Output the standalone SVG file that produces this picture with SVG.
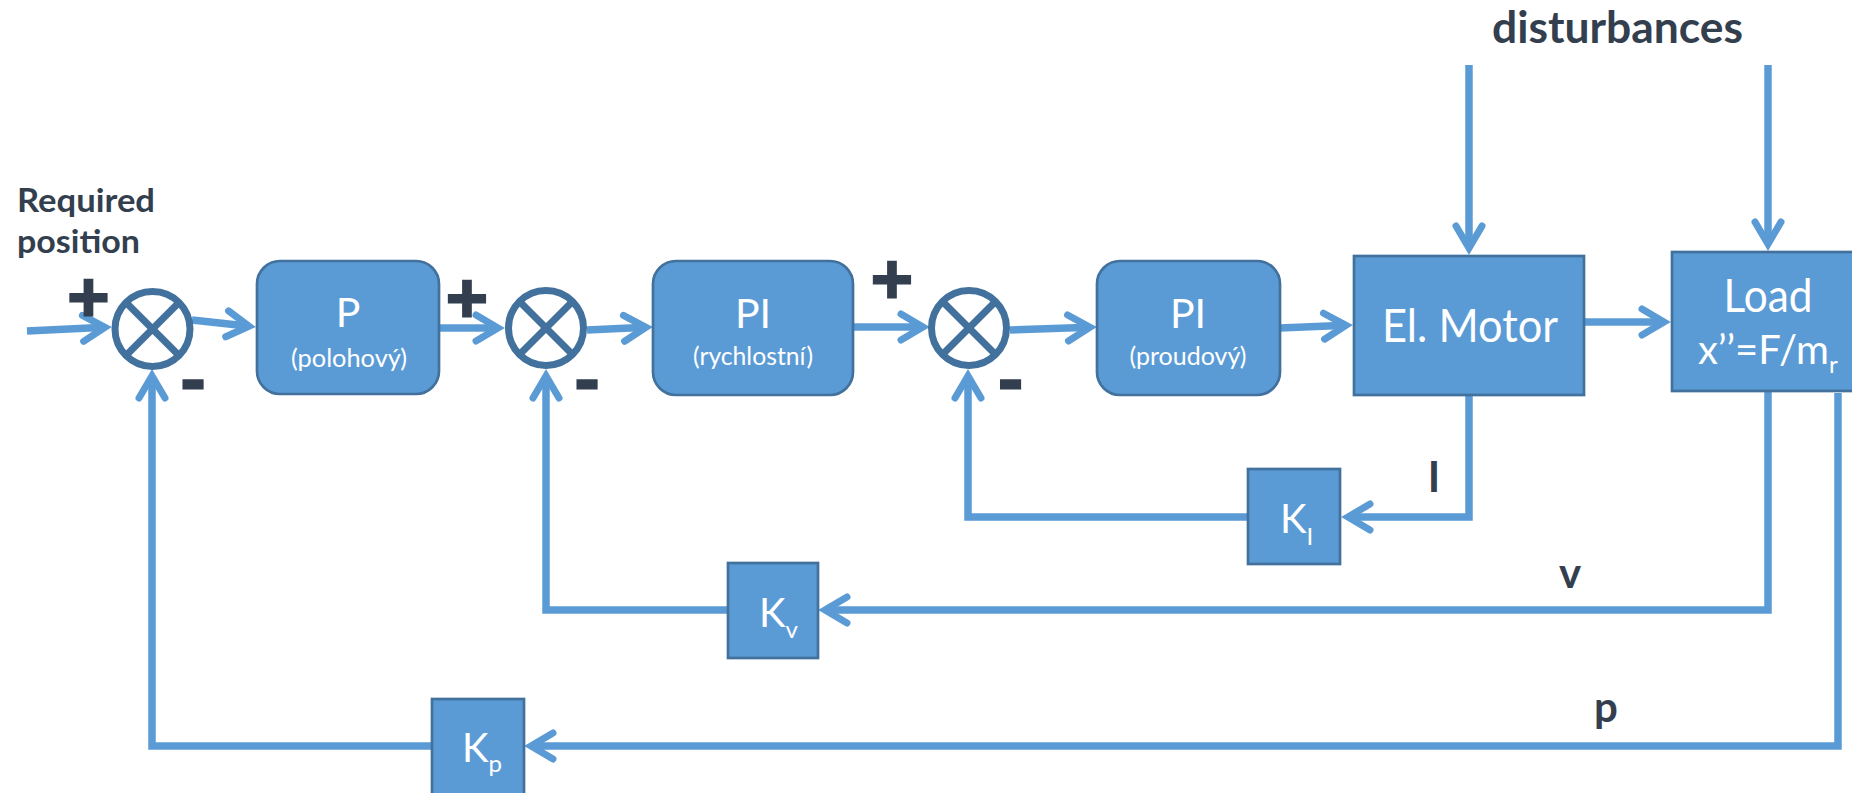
<svg xmlns="http://www.w3.org/2000/svg" width="1852" height="793" viewBox="0 0 1852 793">
  <style>
    .wire { fill: none; stroke: #5B9BD5; stroke-width: 7.5; stroke-linejoin: miter; stroke-linecap: butt; }
    .arrow { marker-end: url(#head); }
    .block { fill: #5B9BD5; stroke: #41719C; stroke-width: 2.7; }
    .sum circle { fill: #FFFFFF; stroke: #41719C; stroke-width: 7; }
    .sum line { stroke: #41719C; stroke-width: 7; }
    .in { font-family: "Lato", "Liberation Sans", sans-serif; fill: #FFFFFF; }
    .lbl { font-family: "Lato", "Liberation Sans", sans-serif; fill: #333F4F; font-weight: bold; }
    .sign { font-family: "Lato", "Liberation Sans", sans-serif; fill: #333F4F; stroke: #333F4F; stroke-width: 3; font-weight: bold; text-anchor: middle; }
    .plus { font-family: "DejaVu Sans", sans-serif; font-size: 56px; stroke-width: 3.2; }
  </style>
  <defs>
    <marker id="head" markerUnits="userSpaceOnUse" orient="auto" refX="0" refY="0" markerWidth="60" markerHeight="60" overflow="visible">
      <path d="M-22,-13 L0,0 L-22,13" fill="none" stroke="#5B9BD5" stroke-width="7" stroke-linecap="round" stroke-linejoin="miter"/>
    </marker>
  </defs>

  <!-- signal lines -->
  <g id="connectors">
    <path class="wire arrow" d="M27,331 L105,327.3"/>
    <path class="wire arrow" d="M192,320 L249,326.2"/>
    <path class="wire arrow" d="M439,328 L498,328"/>
    <path class="wire arrow" d="M587,330 L646,327.3"/>
    <path class="wire arrow" d="M853,327 L923,327"/>
    <path class="wire arrow" d="M1010,330 L1090,327.2"/>
    <path class="wire arrow" d="M1280,328 L1346,325.3"/>
    <path class="wire arrow" d="M1584,322 L1664,322"/>
    <path class="wire arrow" d="M1469,65 L1469,248"/>
    <path class="wire arrow" d="M1768,65 L1768,244"/>
    <!-- current loop -->
    <path class="wire arrow" d="M1469,395 L1469,517 L1348,517"/>
    <path class="wire arrow" d="M1248,517 L968,517 L968,376"/>
    <!-- velocity loop -->
    <path class="wire arrow" d="M1768,391 L1768,610 L825,610"/>
    <path class="wire arrow" d="M728,610 L546,610 L546,376"/>
    <!-- position loop -->
    <path class="wire arrow" d="M1838,393 L1838,746 L531,746"/>
    <path class="wire arrow" d="M432,746 L152,746 L152,376"/>
  </g>

  <!-- summing junctions -->
  <g id="sum1" class="sum">
    <circle cx="152.5" cy="329" r="37.5"/>
    <line x1="126" y1="302.5" x2="179" y2="355.5"/>
    <line x1="179" y1="302.5" x2="126" y2="355.5"/>
  </g>
  <g id="sum2" class="sum">
    <circle cx="546" cy="328" r="37.5"/>
    <line x1="519.5" y1="301.5" x2="572.5" y2="354.5"/>
    <line x1="572.5" y1="301.5" x2="519.5" y2="354.5"/>
  </g>
  <g id="sum3" class="sum">
    <circle cx="969" cy="328" r="37.5"/>
    <line x1="942.5" y1="301.5" x2="995.5" y2="354.5"/>
    <line x1="995.5" y1="301.5" x2="942.5" y2="354.5"/>
  </g>

  <!-- sign labels -->
  <g id="signs">
    <text class="sign plus" x="88.5" y="315">+</text>
    <text class="sign plus" x="467" y="316">+</text>
    <text class="sign plus" x="892" y="297">+</text>
    <text class="sign" x="193" y="406" font-size="70">-</text>
    <text class="sign" x="587" y="406" font-size="70">-</text>
    <text class="sign" x="1010.5" y="406" font-size="70">-</text>
  </g>

  <!-- controllers -->
  <g id="p-pos">
    <rect class="block" x="257" y="261" width="182" height="133" rx="23"/>
    <text class="in" x="348" y="327" font-size="41" text-anchor="middle">P</text>
    <text class="in" x="349" y="367" font-size="25" text-anchor="middle" textLength="116" lengthAdjust="spacingAndGlyphs">(polohový)</text>
  </g>
  <g id="pi-speed">
    <rect class="block" x="653" y="261" width="200" height="134" rx="23"/>
    <text class="in" x="753" y="328" font-size="41" text-anchor="middle">PI</text>
    <text class="in" x="753" y="365" font-size="25" text-anchor="middle" textLength="120" lengthAdjust="spacingAndGlyphs">(rychlostní)</text>
  </g>
  <g id="pi-current">
    <rect class="block" x="1097" y="261" width="183" height="134" rx="23"/>
    <text class="in" x="1188" y="328" font-size="41" text-anchor="middle">PI</text>
    <text class="in" x="1188" y="365" font-size="25" text-anchor="middle" textLength="117" lengthAdjust="spacingAndGlyphs">(proudový)</text>
  </g>

  <!-- plant -->
  <g id="motor">
    <rect class="block" x="1354" y="256" width="230" height="139"/>
    <text class="in" x="1470" y="342" font-size="46" text-anchor="middle" textLength="176" lengthAdjust="spacingAndGlyphs">El. Motor</text>
  </g>
  <g id="load">
    <rect class="block" x="1672" y="252" width="200" height="139"/>
    <text class="in" x="1768" y="312" font-size="46" text-anchor="middle" textLength="89" lengthAdjust="spacingAndGlyphs">Load</text>
    <text class="in" x="1698" y="364" font-size="40">x’’=F/m<tspan font-size="24" dy="9">r</tspan></text>
  </g>

  <!-- feedback gains -->
  <g id="k-i">
    <rect class="block" x="1248" y="469" width="92" height="95"/>
    <text class="in" x="1280" y="533" font-size="40">K<tspan font-size="24" dy="12">I</tspan></text>
  </g>
  <g id="k-v">
    <rect class="block" x="728" y="563" width="90" height="95"/>
    <text class="in" x="759" y="627" font-size="40">K<tspan font-size="24" dy="11">v</tspan></text>
  </g>
  <g id="k-p">
    <rect class="block" x="432" y="699" width="92" height="100"/>
    <text class="in" x="462" y="762" font-size="40">K<tspan font-size="24" dy="10">p</tspan></text>
  </g>

  <!-- signal names -->
  <g id="labels">
    <text class="lbl" font-size="33"><tspan x="17" y="212" textLength="138" lengthAdjust="spacingAndGlyphs">Required</tspan><tspan x="17" y="253" textLength="123" lengthAdjust="spacingAndGlyphs">position</tspan></text>
    <text class="lbl" x="1492" y="43" font-size="44" textLength="251" lengthAdjust="spacingAndGlyphs">disturbances</text>
    <text class="lbl" x="1434" y="492" font-size="42" text-anchor="middle">I</text>
    <text class="lbl" x="1570" y="588" font-size="42" text-anchor="middle">v</text>
    <text class="lbl" x="1606" y="722" font-size="42" text-anchor="middle">p</text>
  </g>
</svg>
